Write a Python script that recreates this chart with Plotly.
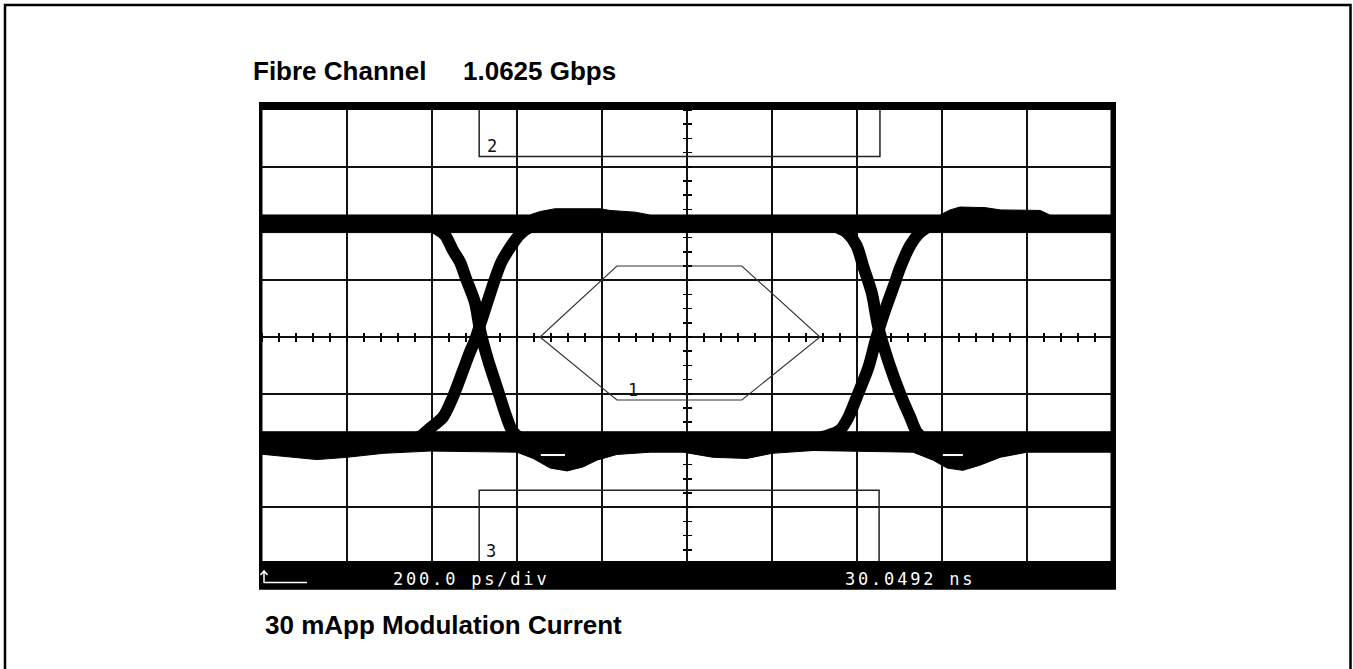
import plotly.graph_objects as go

# ---------------- data: time in ps, amplitude in screen divisions ----------------
time_range_ps = [0, 2000]
amp_range_div = [-4, 4]
grid_dtick_ps = 200
grid_dtick_div = 1
minor_dtick_ps = 40
minor_dtick_div = 0.25

# logic "1" band envelopes
hi_upper_t = [-50, 630, 654, 689, 795, 819, 878, 913, 1595, 1619, 1642, 1701, 1737, 1831, 1854, 2050]
hi_upper_v = [2.15, 2.15, 2.21, 2.26, 2.26, 2.23, 2.20, 2.15, 2.15, 2.24, 2.29, 2.28, 2.24, 2.23, 2.15, 2.15]
hi_lower_t = [-50, 2050]
hi_lower_v = [1.84, 1.84]

# logic "0" band envelopes
lo_upper_t = [-50, 2050]
lo_upper_v = [-1.67, -1.67]
lo_lower_t = [-50, 129, 200, 285, 395, 600, 638, 678, 718, 755, 788, 835, 913, 991,
              1061, 1141, 1200, 1297, 1532, 1579, 1612, 1649, 1689, 1737, 1800, 2050]
lo_lower_v = [-2.03, -2.16, -2.12, -2.05, -2.01, -2.03, -2.14, -2.31, -2.36, -2.29, -2.17, -2.07, -2.03, -2.03,
              -2.12, -2.14, -2.05, -2.00, -2.03, -2.17, -2.31, -2.35, -2.26, -2.12, -2.03, -2.03]

# transitions
fall1_t = [384, 412, 431, 449, 466, 480, 501, 513, 532, 555, 574, 588, 607, 631]
fall1_v = [1.98, 1.90, 1.79, 1.53, 1.32, 1.03, 0.61, 0.12, -0.41, -0.94, -1.38, -1.64, -1.78, -1.84]
rise1_t = [337, 372, 395, 426, 449, 473, 489, 501, 515, 537, 562, 584, 607, 635, 666]
rise1_v = [-1.82, -1.75, -1.61, -1.41, -1.06, -0.59, -0.27, -0.06, 0.26, 0.77, 1.30, 1.58, 1.81, 1.95, 2.00]
fall2_t = [1337, 1360, 1376, 1399, 1414, 1435, 1449, 1473, 1501, 1525, 1541, 1560, 1584]
fall2_v = [1.98, 1.91, 1.84, 1.61, 1.26, 0.77, 0.21, -0.41, -0.99, -1.41, -1.68, -1.80, -1.84]
rise2_t = [1289, 1325, 1360, 1380, 1403, 1427, 1446, 1466, 1489, 1501, 1525, 1548, 1577, 1607]
rise2_v = [-1.82, -1.75, -1.64, -1.41, -0.99, -0.53, 0.00, 0.47, 0.95, 1.21, 1.61, 1.84, 1.97, 2.00]

# small gaps visible inside the undershoot
gap_t = [656, 713, None, 1602, 1649]
gap_v = [-2.08, -2.08, None, -2.08, -2.08]

# eye mask regions
mask1_t = [654, 835, 1129, 1313, 1129, 835, 654]
mask1_v = [0, 1.25, 1.25, 0, -1.11, -1.11, 0]
mask2_t = [511, 511, 1454, 1454]
mask2_v = [4, 3.18, 3.18, 4]
mask3_t = [511, 511, 1452, 1452]
mask3_v = [-4, -2.70, -2.70, -4]

# texts
title_left = "Fibre Channel"
title_right = "1.0625 Gbps"
caption = "30 mApp Modulation Current"
timebase_label = "200.0 ps/div"
delay_label = "30.0492 ns"
mask_labels = ["1", "2", "3"]

# ---------------- layout geometry ----------------
W, H = 1353, 669
L, R, T, B = 262, 241, 110, 105
PW, PH = W - L - R, H - T - B


def px(x):
    return (x - L) / PW


def py(y):
    return (H - B - y) / PH


fig = go.Figure()


def band(ut, uv, lt, lv):
    return go.Scatter(x=ut + lt[::-1], y=uv + lv[::-1], mode="lines", fill="toself",
                      fillcolor="black", line=dict(color="black", width=1),
                      hoverinfo="skip", showlegend=False)


fig.add_trace(band(hi_upper_t, hi_upper_v, hi_lower_t, hi_lower_v))
fig.add_trace(band(lo_upper_t, lo_upper_v, lo_lower_t, lo_lower_v))

for et, ev in [(fall1_t, fall1_v), (rise1_t, rise1_v), (fall2_t, fall2_v), (rise2_t, rise2_v)]:
    fig.add_trace(go.Scatter(x=et, y=ev, mode="lines",
                             line=dict(color="black", width=12, shape="spline", smoothing=0.8),
                             hoverinfo="skip", showlegend=False))

fig.add_trace(go.Scatter(x=gap_t, y=gap_v, mode="lines", line=dict(color="white", width=2),
                         hoverinfo="skip", showlegend=False))

fig.add_trace(go.Scatter(x=mask1_t, y=mask1_v, mode="lines", line=dict(color="#333333", width=1.1),
                         hoverinfo="skip", showlegend=False))
for mt, mv in [(mask2_t, mask2_v), (mask3_t, mask3_v)]:
    fig.add_trace(go.Scatter(x=mt, y=mv, mode="lines", line=dict(color="#222222", width=1.5),
                             hoverinfo="skip", showlegend=False))

# dummy traces so the centre tick axes are drawn
fig.add_trace(go.Scatter(x=[None], y=[None], xaxis="x2", yaxis="y2", showlegend=False, hoverinfo="skip"))
fig.add_trace(go.Scatter(x=[None], y=[None], xaxis="x3", yaxis="y3", showlegend=False, hoverinfo="skip"))

grid_common = dict(showgrid=True, gridcolor="#111111", gridwidth=1.6, zeroline=False,
                   showline=True, mirror=True, linecolor="black", linewidth=2,
                   ticks="", showticklabels=False, fixedrange=True)

center_tick = dict(anchor="free", position=0.5, showgrid=False, zeroline=False, showline=False,
                   showticklabels=False, ticklen=4, tickwidth=1.5, tickcolor="black", ticks="outside")

fig.update_layout(
    width=W, height=H,
    margin=dict(l=L, r=R, t=T, b=B),
    paper_bgcolor="white",
    plot_bgcolor="rgba(0,0,0,0)",
    showlegend=False,
    xaxis=dict(range=time_range_ps, tick0=0, dtick=grid_dtick_ps, **grid_common),
    yaxis=dict(range=amp_range_div, tick0=0, dtick=grid_dtick_div, **grid_common),
    xaxis2=dict(overlaying="x", range=time_range_ps, tick0=0, dtick=minor_dtick_ps, side="bottom", **center_tick),
    xaxis3=dict(overlaying="x", range=time_range_ps, tick0=0, dtick=minor_dtick_ps, side="top", **center_tick),
    yaxis2=dict(overlaying="y", range=amp_range_div, tick0=0, dtick=minor_dtick_div, side="left", **center_tick),
    yaxis3=dict(overlaying="y", range=amp_range_div, tick0=0, dtick=minor_dtick_div, side="right", **center_tick),
)

arrow_path = "M {a},{b} L {a},{c} M {d},{e} L {a},{c} L {f},{e}".format(
    a=px(264), b=py(583), c=py(571), d=px(260.5), e=py(575), f=px(267.5))

shapes = [
    # outer page frame
    dict(type="rect", xref="paper", yref="paper", x0=px(5), x1=px(1350.5), y0=py(720), y1=py(5),
         line=dict(color="black", width=2.5), fillcolor="rgba(0,0,0,0)", layer="below"),
    # scope bezel
    dict(type="rect", xref="paper", yref="paper", x0=px(259), x1=px(1116), y0=py(589.5), y1=py(102),
         line=dict(width=0), fillcolor="black", layer="below"),
    # screen
    dict(type="rect", xref="paper", yref="paper", x0=px(262.5), x1=px(1110.5), y0=py(562), y1=py(109),
         line=dict(width=0), fillcolor="white", layer="below"),
    # status bar
    dict(type="rect", xref="paper", yref="paper", x0=px(259), x1=px(1116), y0=py(589.5), y1=py(561),
         line=dict(width=0), fillcolor="black", layer="above"),
    # trigger marker
    dict(type="line", xref="paper", yref="paper", x0=px(264), x1=px(307), y0=py(582.5), y1=py(582.5),
         line=dict(color="white", width=1.5), layer="above"),
    dict(type="path", xref="paper", yref="paper", path=arrow_path,
         line=dict(color="white", width=1.5), layer="above"),
]
fig.update_layout(shapes=shapes)

title_font = dict(family="Liberation Sans, Arial, sans-serif", size=26, color="black", weight="bold")
mono_white = dict(family="DejaVu Sans Mono, monospace", size=17, color="white")
mono_black = dict(family="DejaVu Sans Mono, monospace", size=17, color="#111111")

ann = [
    dict(text=title_left, x=px(251), y=py(71), xanchor="left", yanchor="middle", font=title_font),
    dict(text=title_right, x=px(461), y=py(71), xanchor="left", yanchor="middle", font=title_font),
    dict(text=caption, x=px(263), y=py(625), xanchor="left", yanchor="middle", font=title_font),
    dict(text='<span style="letter-spacing:2.8px">' + timebase_label + '</span>', x=px(391), y=py(579),
         xanchor="left", yanchor="middle", font=mono_white),
    dict(text='<span style="letter-spacing:2.8px">' + delay_label + '</span>', x=px(843), y=py(579),
         xanchor="left", yanchor="middle", font=mono_white),
    dict(text=mask_labels[0], x=px(633), y=py(390), xanchor="center", yanchor="middle", font=mono_black),
    dict(text=mask_labels[1], x=px(492), y=py(146), xanchor="center", yanchor="middle", font=mono_black),
    dict(text=mask_labels[2], x=px(491), y=py(551), xanchor="center", yanchor="middle", font=mono_black),
]
for a in ann:
    a.setdefault("xref", "paper")
    a.setdefault("yref", "paper")
    a["showarrow"] = False
fig.update_layout(annotations=ann)

fig.write_html("out.html", config={"displayModeBar": False, "staticPlot": True},
               post_script="document.body.style.margin='0px';")
